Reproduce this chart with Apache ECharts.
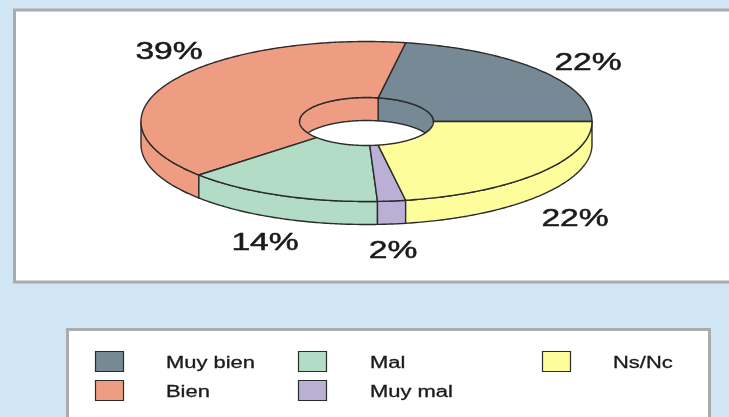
<!DOCTYPE html>
<html><head><meta charset="utf-8">
<style>html,body{margin:0;padding:0;background:#D1E6F5}#c{width:729px;height:417px}</style>
<script src="https://cdn.jsdelivr.net/npm/echarts@6/dist/echarts.min.js"></script>
</head><body><div id="c"></div>
<script>
const categories = ['Muy bien', 'Bien', 'Mal', 'Muy mal', 'Ns/Nc'];
const values = [22.2, 39.4, 14.1, 2.0, 22.2];
const colors = ['#778995', '#EE9C82', '#B2DCC6', '#BAB0D6', '#FDFD9B'];

const total = values.reduce((a, b) => a + b, 0);
const CX = 366.5, CY = 121.5, RX = 225.5, RY = 80, IRX = 67, IRY = 24, DEPTH = 23;
const LINE = '#2b2b2b';
const labelPos = [[588, 63.5], [169, 52.5], [265, 243.5], [393, 251.5], [575, 219.5]];
const legendPos = [[95, 351, 166], [95, 380, 166], [298, 351, 370], [298, 380, 370], [542, 351, 613]];
const HOLE_LIMIT = Math.asin((DEPTH / 2) / IRY) * 180 / Math.PI;

function pt(rx, ry, deg, dy) {
  const a = deg * Math.PI / 180;
  return [CX + rx * Math.cos(a), CY - ry * Math.sin(a) + (dy || 0)];
}
function arc(rx, ry, a0, a1, dy) {
  const n = Math.max(2, Math.ceil(Math.abs(a1 - a0) * 1.5)), out = [];
  for (let i = 0; i <= n; i++) out.push(pt(rx, ry, a0 + (a1 - a0) * i / n, dy));
  return out;
}
function poly(points, fill) {
  return { type: 'polygon', shape: { points }, style: { fill, stroke: LINE, lineWidth: 1.4, lineJoin: 'round' } };
}
function band(rx, ry, a0, a1, fill) {
  return poly(arc(rx, ry, a0, a1, 0).concat(arc(rx, ry, a1, a0, DEPTH)), fill);
}
function stretched(text, x, y, size, sx, align, weight) {
  return { type: 'text', x, y, scaleX: sx, scaleY: 1,
    style: { text, fontFamily: 'Liberation Sans', fontSize: size, fill: '#1a1a1a', stroke: '#1a1a1a', lineWidth: weight,
      align: align || 'center', verticalAlign: 'middle' } };
}

function renderSlice(params, api) {
  const i = params.dataIndex;
  let before = 0;
  for (let k = 0; k < i; k++) before += values[k];
  const a0 = before / total * 360, a1 = (before + api.value(0)) / total * 360;
  const fill = colors[i], children = [];
  // outer wall: front half only
  const f0 = Math.max(a0, 180), f1 = Math.min(a1, 360);
  if (f1 > f0) children.push(band(RX, RY, f0, f1, fill));
  // inner wall: far side of the hole; the first slice's wall wraps just past 0 degrees
  const w0 = i === 0 ? -HOLE_LIMIT : a0, w1 = Math.min(a1, 180 + HOLE_LIMIT);
  if (w1 > w0) children.push(band(IRX, IRY, w0, w1, fill));
  // top face
  children.push(poly(arc(RX, RY, a0, a1, 0).concat(arc(IRX, IRY, a1, a0, 0)), fill));
  const lp = labelPos[i];
  children.push(stretched(Math.round(api.value(0)) + '%', lp[0], lp[1], 24, 1.4, 'center', 0.5));
  return { type: 'group', children };
}
function renderLegend(params, api) {
  const i = params.dataIndex, p = legendPos[i];
  return { type: 'group', children: [
    { type: 'rect', shape: { x: p[0] + 0.5, y: p[1] + 0.5, width: 28, height: 20 },
      style: { fill: colors[i], stroke: LINE, lineWidth: 1.2 } },
    stretched(categories[i], p[2], p[1] + 12.5, 16, 1.37, 'left', 0.3)
  ] };
}

const chart = echarts.init(document.getElementById('c'), null, { renderer: 'canvas' });
chart.setOption({
  animation: false,
  backgroundColor: '#D1E6F5',
  graphic: [
    { type: 'rect', z: 0, shape: { x: 14.5, y: 10, width: 730, height: 272 },
      style: { fill: '#fff', stroke: '#ABABAB', lineWidth: 3 } },
    { type: 'rect', z: 0, shape: { x: 67.5, y: 329.5, width: 642, height: 110 },
      style: { fill: '#fff', stroke: '#ABABAB', lineWidth: 3 } }
  ],
  series: [
    { type: 'custom', coordinateSystem: 'none', z: 5, clip: false, renderItem: renderSlice,
      data: values.map((v, i) => ({ name: categories[i], value: [v] })) },
    { type: 'custom', coordinateSystem: 'none', z: 5, clip: false, renderItem: renderLegend,
      data: values.map((v, i) => ({ name: categories[i], value: [v] })) }
  ]
});
</script></body></html>
